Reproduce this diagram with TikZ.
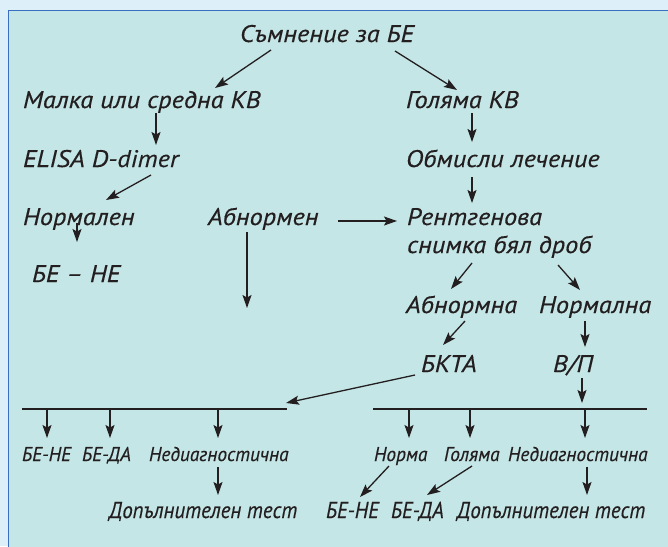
\documentclass[tikz,border=0pt]{standalone}
\usepackage{fontspec}
\setmainfont{PT Sans}
\newfontfamily\mainf[FakeStretch=1.1,FakeBold=0.3]{PT Sans Italic}
\newfontfamily\smlf[FakeStretch=0.97,FakeBold=0.3]{PT Sans Italic}
\newfontfamily\narf[FakeStretch=0.91,FakeBold=0.3]{PT Sans Italic}
\usetikzlibrary{arrows.meta,calc}
\definecolor{outerbg}{RGB}{221,240,250}
\definecolor{innerbg}{RGB}{197,230,230}
\definecolor{framec}{RGB}{58,110,190}
\definecolor{ink}{RGB}{35,31,32}
\tikzset{
  lbl/.style={anchor=base west,inner sep=0pt,outer sep=0pt,text=ink,font=\mainf\fontsize{24}{28}\selectfont},
  sml/.style={anchor=base west,inner sep=0pt,outer sep=0pt,text=ink,font=\smlf\fontsize{20}{24}\selectfont},
  btm/.style={anchor=base west,inner sep=0pt,outer sep=0pt,text=ink,font=\narf\fontsize{23}{27}\selectfont},
  arr/.style={draw=ink,line width=1.3pt,-{Stealth[length=13pt,width=9pt,inset=2.5pt]}},
  hline/.style={draw=ink,line width=1.3pt}
}
\begin{document}
\begin{tikzpicture}[x=1pt,y=-1pt]
\useasboundingbox (0,0) rectangle (668,546);
\fill[outerbg] (0,0) rectangle (668,546);
\draw[fill=innerbg,draw=framec,line width=1.5pt] (8.5,10.5) rectangle (690,570);

\node[lbl] (top) at (240,42) {Съмнение за БЕ};
\node[lbl] (malka) at (23,108) {Малка или средна КВ};
\node[lbl] (golyama) at (406,108) {Голяма КВ};
\node[lbl] (elisa) at (23,167) {ELISA D-dimer};
\node[lbl] (obm) at (406,167) {Обмисли лечение};
\node[lbl] (norm) at (23,225) {Нормален};
\node[lbl] (abn) at (208,225) {Абнормен};
\node[lbl] (rent1) at (407,225) {Рентгенова};
\node[lbl] (rent2) at (407,253) {снимка бял дроб};
\node[lbl] (bene) at (32,282) {БЕ – НЕ};
\node[lbl] (abna) at (406,313) {Абнормна};
\node[lbl] (norma2) at (539,313) {Нормална};
\node[lbl] (bkta) at (421,372) {БКТА};
\node[lbl] (vp) at (553,372) {В/П};

\node[sml] (s1) at (22,461) {БЕ-НЕ};
\node[sml] (s2) at (82,461) {БЕ-ДА};
\node[sml] (s3) at (149,461) {Недиагностична};
\node[sml] (s4) at (374,461) {Норма};
\node[sml] (s5) at (444,461) {Голяма};
\node[sml] (s6) at (508,461) {Недиагностична};

\node[btm] (d1) at (109,518) {Допълнителен тест};
\node[btm] (b2) at (326,518) {БЕ-НЕ};
\node[btm] (b3) at (391,518) {БЕ-ДА};
\node[btm] (d2) at (457,518) {Допълнителен тест};

\coordinate (la) at (22,409);
\coordinate (lb) at (287,409);
\coordinate (ra) at (373,409);
\coordinate (rb) at (647,409);
\coordinate (abnend) at (247,308);
\draw[hline] (la) -- (lb);
\draw[hline] (ra) -- (rb);

\draw[arr] ([shift={(31,8)}]top.base west) -- ([shift={(192,-20)}]malka.base west);
\draw[arr] ([shift={(155,9)}]top.base west) -- ([shift={(51,-18)}]golyama.base west);
\draw[arr] ([shift={(133,5)}]malka.base west) -- ([shift={(133,-22)}]elisa.base west);
\draw[arr] ([shift={(66,5)}]golyama.base west) -- ([shift={(66,-25)}]obm.base west);
\draw[arr] ([shift={(128,8)}]elisa.base west) -- ([shift={(83,-25)}]norm.base west);
\draw[arr] ([shift={(66,10)}]obm.base west) -- ([shift={(65,-22)}]rent1.base west);
\draw[arr] ([shift={(54,-2)}]norm.base west) -- ([shift={(45,-40)}]bene.base west);
\draw[arr] ([shift={(130,-4)}]abn.base west) -- ([shift={(-10,-4)}]rent1.base west);
\draw[arr] ([shift={(39,7)}]abn.base west) -- (abnend);
\draw[arr] ([shift={(65,10)}]rent2.base west) -- ([shift={(45,-24)}]abna.base west);
\draw[arr] ([shift={(151,12)}]rent2.base west) -- ([shift={(41,-23)}]norma2.base west);
\draw[arr] ([shift={(59,8)}]abna.base west) -- ([shift={(22,-27)}]bkta.base west);
\draw[arr] ([shift={(46,8)}]norma2.base west) -- ([shift={(32,-25)}]vp.base west);
\draw[arr] ([shift={(-6,3)}]bkta.base west) -- ($(lb)+(-1,-6)$);
\draw[arr] ([shift={(29,6)}]vp.base west) -- ([shift={(29,-6)}]vp.base west |- ra);

\draw[arr] (s1.base west |- la) ++(25,0) -- ([shift={(25,-23)}]s1.base west);
\draw[arr] (s2.base west |- la) ++(28,0) -- ([shift={(28,-23)}]s2.base west);
\draw[arr] (s3.base west |- la) ++(69,0) -- ([shift={(69,-23)}]s3.base west);
\draw[arr] (s4.base west |- ra) ++(35,0) -- ([shift={(35,-23)}]s4.base west);
\draw[arr] (s5.base west |- ra) ++(26,0) -- ([shift={(26,-23)}]s5.base west);
\draw[arr] (s6.base west |- ra) ++(77,0) -- ([shift={(77,-23)}]s6.base west);

\draw[arr] ([shift={(69,6)}]s3.base west) -- ([shift={(109,-23)}]d1.base west);
\draw[arr] ([shift={(15,5)}]s4.base west) -- ([shift={(34,-21)}]b2.base west);
\draw[arr] ([shift={(28,5)}]s5.base west) -- ([shift={(36,-23)}]b3.base west);
\draw[arr] ([shift={(79,6)}]s6.base west) -- ([shift={(130,-23)}]d2.base west);
\end{tikzpicture}
\end{document}
